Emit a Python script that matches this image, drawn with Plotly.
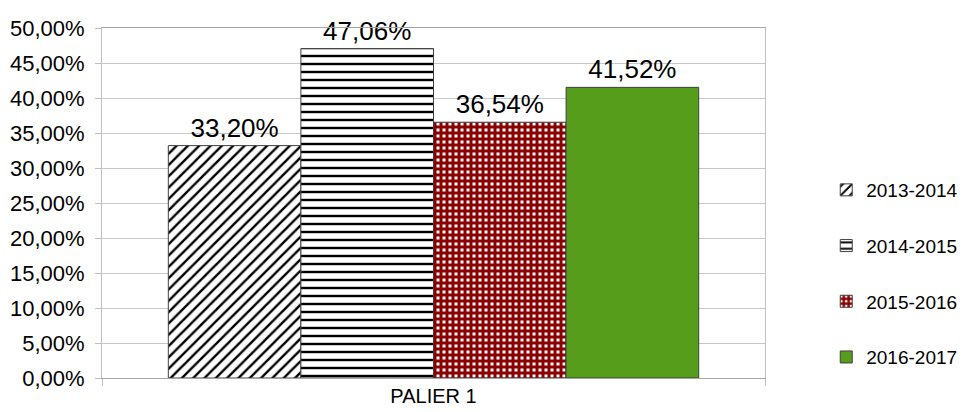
import plotly.graph_objects as go

# data
categories = ["PALIER 1"]
seasons = ["2013-2014", "2014-2015", "2015-2016", "2016-2017"]
rates = [0.3320, 0.4706, 0.3654, 0.4152]
labels = ["33,20%", "47,06%", "36,54%", "41,52%"]

# fill style per season (Excel-like pattern fills)
patterns = [
    dict(shape="/", fgcolor="#000000", bgcolor="white", fgopacity=1, size=8, solidity=0.3),
    dict(shape="-", fgcolor="#000000", bgcolor="white", fgopacity=1, size=8, solidity=0.3),
    dict(shape="+", fgcolor="#8B0000", bgcolor="white", fgopacity=1, size=6, solidity=0.75),
    None,
]
colors = ["white", "white", "white", "#579D1C"]

fig = go.Figure()
for i, season in enumerate(seasons):
    marker = dict(color=colors[i], line=dict(color="#404040", width=1))
    if patterns[i] is not None:
        marker["pattern"] = patterns[i]
    fig.add_trace(go.Bar(
        x=categories,
        y=[rates[i]],
        name=season,
        legendgroup=season,
        text=[labels[i]],
        textposition="outside",
        textfont=dict(size=26, color="black", family="Liberation Sans, Arial"),
        cliponaxis=False,
        marker=marker,
    ))

# the page adds an 8px body margin, so the figure is a bit smaller than the window
fig.update_layout(
    width=957,
    height=404,
    margin=dict(l=94, r=200, t=20, b=34, autoexpand=False),
    paper_bgcolor="white",
    plot_bgcolor="white",
    barmode="group",
    bargap=0.2,
    bargroupgap=0,
    separators=",.",
    font=dict(family="Liberation Sans, Arial", size=22, color="black"),
    showlegend=True,
    legend=dict(
        xref="container", yref="container",
        x=0.855, y=0.3465, xanchor="left", yanchor="middle",
        traceorder="grouped",
        tracegroupgap=28,
        font=dict(size=19),
        itemwidth=30,
        bgcolor="rgba(0,0,0,0)",
    ),
    yaxis=dict(
        automargin=False,
        range=[0, 0.5],
        dtick=0.05,
        tickformat=".2%",
        showgrid=True,
        gridcolor="#C8C8C8",
        showline=True,
        linecolor="#BFBFBF",
        mirror=True,
        ticks="outside",
        ticklen=6,
        tickcolor="#BFBFBF",
        ticklabelstandoff=6,
        zeroline=False,
    ),
    xaxis=dict(
        automargin=False,
        showline=True,
        linecolor="#A6A6A6",
        mirror=True,
        ticks="outside",
        tickson="boundaries",
        ticklen=7,
        tickcolor="#BFBFBF",
        tickfont=dict(size=20),
    ),
)

fig.write_html("out.html")
